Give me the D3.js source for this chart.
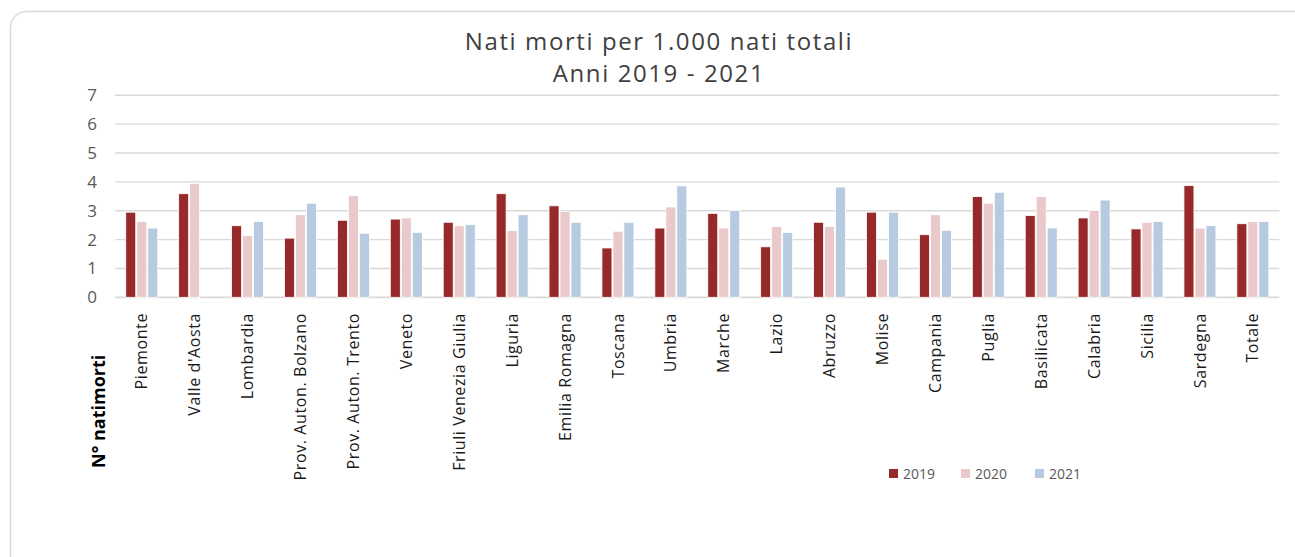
<!DOCTYPE html>
<html><head><meta charset="utf-8">
<script src="https://cdn.jsdelivr.net/npm/d3@7"></script>
<style>
html,body{margin:0;padding:0;background:#fff;}
svg{display:block;font-family:"Open Sans","Noto Sans","Liberation Sans",sans-serif;}
</style></head>
<body>
<svg id="chart" width="1295" height="557"></svg>
<script>
const categories = ["Piemonte","Valle d'Aosta","Lombardia","Prov. Auton. Bolzano","Prov. Auton. Trento","Veneto","Friuli Venezia Giulia","Liguria","Emilia Romagna","Toscana","Umbria","Marche","Lazio","Abruzzo","Molise","Campania","Puglia","Basilicata","Calabria","Sicilia","Sardegna","Totale"];
const seriesNames = ["2019","2020","2021"];
const values2019 = [2.95,3.59,2.48,2.05,2.67,2.71,2.60,3.59,3.17,1.71,2.40,2.91,1.75,2.60,2.95,2.17,3.49,2.83,2.75,2.37,3.87,2.55];
const values2020 = [2.63,3.95,2.14,2.86,3.52,2.75,2.48,2.32,2.98,2.29,3.13,2.40,2.45,2.45,1.32,2.86,3.26,3.49,3.01,2.60,2.40,2.63];
const values2021 = [2.40,0,2.63,3.26,2.22,2.25,2.52,2.86,2.60,2.60,3.86,3.01,2.25,3.82,2.95,2.32,3.64,2.40,3.37,2.63,2.48,2.63];
const yTicks = [0,1,2,3,4,5,6,7];
const titleLines = ["Nati morti per 1.000 nati totali","Anni 2019 - 2021"];
const yTitle = "N° natimorti";
const colors = ["#962a2a","#e9c9ca","#b7cbe0"];

const seriesValues = [values2019, values2020, values2021];
const svg = d3.select("#chart");

// outer frame
svg.append("rect").attr("x",10.5).attr("y",11.5).attr("width",1300).attr("height",560)
  .attr("rx",16).attr("fill","#fff").attr("stroke","#d9d9d9").attr("stroke-width",1.5);

const pL = 115.3, pR = 1279.3, pT = 95.3, pB = 297.3;
const x = d3.scaleBand().domain(categories).range([pL,pR]).paddingInner(0).paddingOuter(0);
const y = d3.scaleLinear().domain([0,7]).range([pB,pT]);
const groupW = 33;
const xs = d3.scaleBand().domain(seriesNames).range([0,groupW]).padding(0);

// gridlines
svg.append("g").selectAll("line").data(yTicks).join("line")
  .attr("x1",pL).attr("x2",pR).attr("y1",d=>y(d)).attr("y2",d=>y(d))
  .attr("stroke","#d9d9d9").attr("stroke-width",d=>d===0?1.8:1.4);

// y tick labels
svg.append("g").selectAll("text").data(yTicks).join("text")
  .attr("x",97).attr("y",d=>y(d)).attr("dy","0.35em").attr("text-anchor","end")
  .attr("font-size",17).attr("fill","#595959").text(d=>d);

// bars
const g = svg.append("g");
seriesNames.forEach((s,si)=>{
  g.append("g").selectAll("rect").data(categories.map((c,i)=>({c,v:seriesValues[si][i]})))
    .join("rect")
    .attr("x",d=>x(d.c)+(x.bandwidth()-groupW)/2+xs(s)+0.5)
    .attr("width",xs.bandwidth()-1)
    .attr("y",d=>y(d.v))
    .attr("height",d=>Math.max(0,y(0)-y(d.v)))
    .attr("fill",colors[si])
    .attr("stroke",d=>d.v>0?"#fff":"none").attr("stroke-width",0.8);
});

// category labels
svg.append("g").selectAll("text").data(categories).join("text")
  .attr("transform",d=>`translate(${x(d)+x.bandwidth()/2},313) rotate(-90)`)
  .attr("dy","0.35em").attr("text-anchor","end")
  .attr("font-size",16).attr("letter-spacing",0.6).attr("fill","#1a1a1a").text(d=>d);

// y title
svg.append("text").attr("transform","translate(99,468) rotate(-90)")
  .attr("dy","0.35em").attr("text-anchor","start")
  .attr("font-size",18).attr("font-weight","bold").attr("fill","#000").text(yTitle);

// title
svg.append("g").selectAll("text").data(titleLines).join("text")
  .attr("x",659).attr("y",(d,i)=>50+i*32).attr("text-anchor","middle")
  .attr("font-size",24).attr("letter-spacing",1.6).attr("fill","#404040").text(d=>d);

// legend
const legX = [889,961,1035];
const leg = svg.append("g").selectAll("g").data(seriesNames).join("g")
  .attr("transform",(d,i)=>`translate(${legX[i]},469)`);
leg.append("rect").attr("width",9).attr("height",9).attr("fill",(d,i)=>colors[i]);
leg.append("text").attr("x",14).attr("y",10).attr("font-size",14).attr("fill","#595959").text(d=>d);
</script>
</body></html>
